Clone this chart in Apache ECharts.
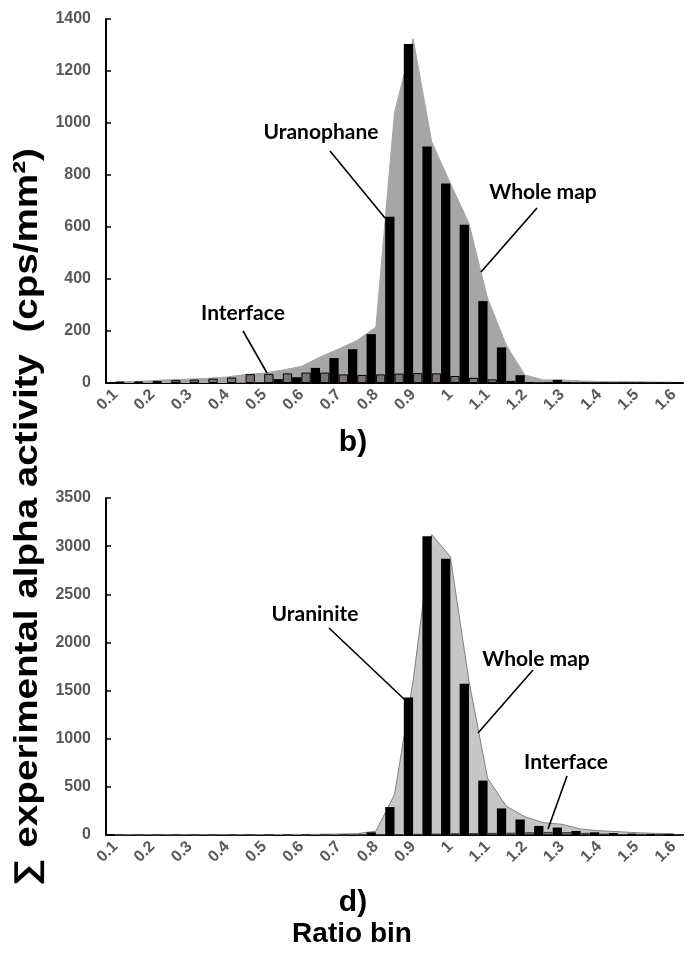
<!DOCTYPE html>
<html>
<head>
<meta charset="utf-8">
<script src="https://cdn.jsdelivr.net/npm/echarts@6/dist/echarts.min.js"></script>
<style>
    html,body{margin:0;padding:0;background:#fff;}
    #chart{width:686px;height:958px;}
</style>
</head>
<body>
<div id="chart"></div>
<script>
    // ratio bins (category axis, every other one labelled)
    let ratioBins = ['0.1','0.15','0.2','0.25','0.3','0.35','0.4','0.45','0.5','0.55','0.6','0.65','0.7','0.75','0.8','0.85',
        '0.9','0.95','1','1.05','1.1','1.15','1.2','1.25','1.3','1.35','1.4','1.45','1.5','1.55','1.6'];

    // b) uranophane map
    let uranophane = [0,0,0,0,0,0,0,1,3,15,22,58,96,130,188,639,1304,910,767,609,315,137,30,3,12,3,3,3,3,3,3];
    let interfaceB = [5,6,8,11,13,17,21,34,35,37,40,40,33,31,33,36,38,37,27,20,14,8,4,2,2,1,1,1,1,1,1];
    let wholeMapB  = [5,6,9,13,15,18,23,33,38,50,64,100,131,164,215,1040,1325,928,768,614,326,146,31,12,12,8,6,5,5,4,3];

    // d) uraninite map
    let uraninite  = [0,0,0,0,0,0,0,0,0,0,0,0,2,5,28,290,1428,3102,2870,1570,565,276,161,94,77,42,28,21,14,10,7];
    let interfaceD = [0,0,0,0,0,0,0,1,1,2,2,3,4,5,6,8,12,15,18,20,22,24,28,32,30,22,15,10,8,5,4];
    let wholeMapD  = [2,2,2,2,2,2,3,3,4,5,6,8,10,14,40,420,1600,3120,2890,1600,590,300,190,128,111,62,44,35,24,17,14];

    let tickFont = {color:'#595959',fontWeight:'bold',fontFamily:'"Liberation Sans", Arial',fontSize:16};

    function xAxisFor(idx){
        return {
            type:'category', gridIndex:idx, data:ratioBins, boundaryGap:true,
            axisLine:{lineStyle:{color:'#000',width:2}},
            axisTick:{interval:0,length:5,lineStyle:{color:'#000',width:1.5}},
            axisLabel:Object.assign({interval:1,rotate:45,margin:9},tickFont),
            splitLine:{show:false}
        }
    }
    function yAxisFor(idx,max,step){
        return {
            type:'value', gridIndex:idx, min:0, max:max, interval:step,
            axisLine:{show:true,lineStyle:{color:'#000',width:2}},
            axisTick:{show:true,inside:true,length:5,lineStyle:{color:'#000',width:1.5}},
            axisLabel:Object.assign({margin:15,formatter:(v)=>String(v)},tickFont),
            splitLine:{show:false}
        }
    }

    function note(text,x,y){
        return {type:'text',x:x,y:y,z:100,style:{text:text,font:'bold 21px Lato, "Open Sans"',fill:'#000',
            textAlign:'center',textVerticalAlign:'middle',align:'center',verticalAlign:'middle'}}
    }
    function pointer(x1,y1,x2,y2){
        return {type:'line',z:100,shape:{x1:x1,y1:y1,x2:x2,y2:y2},style:{stroke:'#000',lineWidth:1.6}}
    }
    function bigText(text,x,y,size){
        return {type:'text',x:x,y:y,style:{text:text,font:'bold '+size+'px "Liberation Sans", Arial',fill:'#000',
            textAlign:'center',textVerticalAlign:'middle',align:'center',verticalAlign:'middle'}}
    }

    let chart = echarts.init(document.getElementById('chart'));
    chart.setOption({
        animation:false,
        grid:[
            {left:106,right:3,top:19,height:364},
            {left:106,right:3,top:498,height:337}
        ],
        xAxis:[xAxisFor(0),xAxisFor(1)],
        yAxis:[yAxisFor(0,1400,200),yAxisFor(1,3500,500)],
        series:[
            {name:'Whole map',type:'line',xAxisIndex:0,yAxisIndex:0,data:wholeMapB,z:1,symbol:'none',
                lineStyle:{color:'#a6a6a6',width:1},areaStyle:{color:'#a6a6a6',opacity:1}},
            {name:'Uranophane',type:'bar',xAxisIndex:0,yAxisIndex:0,data:uranophane,z:2,
                barGap:'0%',barCategoryGap:'0%',itemStyle:{color:'#000'}},
            {name:'Interface',type:'bar',xAxisIndex:0,yAxisIndex:0,data:interfaceB,z:2,
                itemStyle:{color:'#7a7474',borderColor:'#000',borderWidth:1}},

            {name:'Whole map',type:'line',xAxisIndex:1,yAxisIndex:1,data:wholeMapD,z:1,symbol:'none',
                lineStyle:{color:'#808080',width:1},areaStyle:{color:'#c6c6c6',opacity:1}},
            {name:'Uraninite',type:'bar',xAxisIndex:1,yAxisIndex:1,data:uraninite,z:2,
                barGap:'0%',barCategoryGap:'0%',itemStyle:{color:'#000'}},
            {name:'Interface',type:'bar',xAxisIndex:1,yAxisIndex:1,data:interfaceD,z:2,
                itemStyle:{color:'#7a7474',borderColor:'#333',borderWidth:1}}
        ],
        graphic:[
            note('Uranophane',321,132), pointer(330,151,385,218),
            note('Whole map',543,192), pointer(537,208,481,272),
            note('Interface',243,313), pointer(243,331,267,373),
            note('Uraninite',315,614), pointer(329,628,404,699),
            note('Whole map',536,659), pointer(533,670,478,733),
            note('Interface',566,762), pointer(567,776,548,829),
            bigText('b)',353,443,30),
            bigText('d)',353,903,30),
            bigText('Ratio bin',352,934,28),
            {type:'text',x:28,y:517,rotation:Math.PI/2,scaleX:1.17,style:{text:'∑ experimental alpha activity  (cps/mm²)',
                font:'bold 33px "Liberation Sans", Arial',fill:'#000',
                textAlign:'center',textVerticalAlign:'middle',align:'center',verticalAlign:'middle'}}
        ]
    });
</script>
</body>
</html>
